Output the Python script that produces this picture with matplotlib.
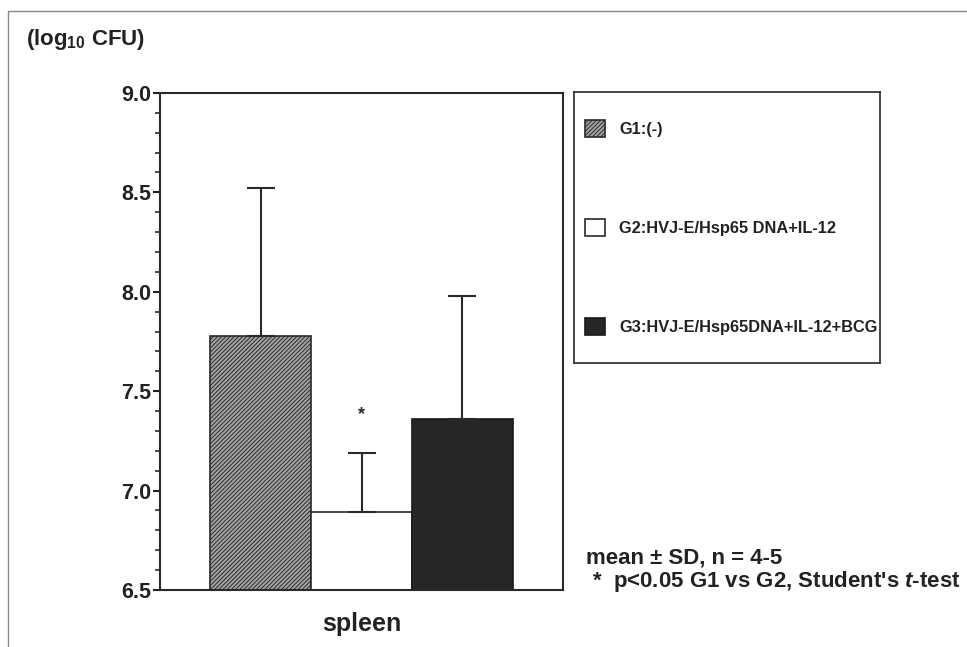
import matplotlib
matplotlib.use("Agg")
import matplotlib.pyplot as plt
from matplotlib.patches import Rectangle

# data (log10 CFU in spleen)
groups = ["G1:(-)", "G2:HVJ-E/Hsp65 DNA+IL-12", "G3:HVJ-E/Hsp65DNA+IL-12+BCG"]
means = [7.78, 6.89, 7.36]
sds = [0.74, 0.30, 0.62]
organ = "spleen"
sig_group = 1   # asterisk over G2
sig_level = 7.38

plt.rcParams['font.family'] = ['Liberation Sans', 'DejaVu Sans']
plt.rcParams['font.weight'] = 'bold'
plt.rcParams['mathtext.fontset'] = 'custom'
plt.rcParams['mathtext.rm'] = 'Liberation Sans:bold'
plt.rcParams['mathtext.it'] = 'Liberation Sans:italic:bold'
plt.rcParams['hatch.linewidth'] = 0.7
plt.rcParams['hatch.color'] = '#2a2a2a'

fig = plt.figure(figsize=(9.67, 6.47), dpi=100)

# outer frame of the scanned figure
fig.patches.append(Rectangle((8 / 967, -0.1), 1.2, 1 - 11 / 647 + 0.1,
                             transform=fig.transFigure, fill=False,
                             edgecolor='#8a8a8a', linewidth=1.0))

ax = fig.add_axes([0.1655, 0.0881, 0.4167, 0.7682])

x = list(range(len(means)))
styles = [dict(facecolor='#a4a4a4', hatch='////////', edgecolor='#2a2a2a'),
          dict(facecolor='white', edgecolor='#2a2a2a'),
          dict(facecolor='#262626', edgecolor='#1a1a1a')]
bars = []
for i in x:
    b = ax.bar(x[i], means[i] - 6.5, bottom=6.5, width=1.0, linewidth=1.2,
               label=groups[i], zorder=2, **styles[i])
    bars.append(b)

ax.errorbar(x, means, yerr=[[0] * len(sds), sds], fmt='none', ecolor='#2a2a2a',
            elinewidth=1.5, capsize=10, capthick=1.5, zorder=3)

ax.text(x[sig_group], sig_level, "*", ha='center', va='center', fontsize=13,
        color='#2a2a2a')

ax.set_xlim(-1, 3)
ax.set_ylim(6.5, 9.0)
ax.set_yticks([6.5, 7.0, 7.5, 8.0, 8.5, 9.0])
ax.set_yticklabels(["6.5", "7.0", "7.5", "8.0", "8.5", "9.0"])
ax.set_yticks([6.5 + 0.1 * k for k in range(26)], minor=True)
ax.tick_params(axis='y', which='major', length=5, width=1.5, labelsize=15.5,
               pad=1, colors='#222222')
ax.tick_params(axis='y', which='minor', length=3.5, width=1.2, colors='#2a2a2a')
ax.set_xticks([1])
ax.set_xticklabels([organ], fontsize=18)
ax.tick_params(axis='x', length=0, pad=16, colors='#222222')
for s in ax.spines.values():
    s.set_linewidth(1.5)
    s.set_color('#2a2a2a')

fig.text(26 / 967, 1 - 40 / 647, r"(log$_{\mathrm{10}}$ CFU)", fontsize=16,
         va='center', ha='left', color='#222222')

# legend box
lax = fig.add_axes([0.5936, 0.4389, 0.3164, 0.4189])
lax.set_xticks([])
lax.set_yticks([])
for s in lax.spines.values():
    s.set_linewidth(1.2)
    s.set_color('#2a2a2a')
lax.legend(handles=bars, labels=groups, loc='center left', frameon=False,
           fontsize=11.8, handlelength=1.2, handleheight=1.2,
           handletextpad=0.85, labelspacing=5.0, borderaxespad=0.3,
           labelcolor='#222222')

fig.text(586 / 967, 1 - 558 / 647, "mean \u00b1 SD, n = 4-5", fontsize=16,
         va='center', ha='left', color='#222222')
fig.text(592 / 967, 1 - 581 / 647, r"*  p<0.05 G1 vs G2, Student's $\mathit{t}$-test",
         fontsize=16, va='center', ha='left', color='#222222')

fig.savefig("out.png", dpi=100)
